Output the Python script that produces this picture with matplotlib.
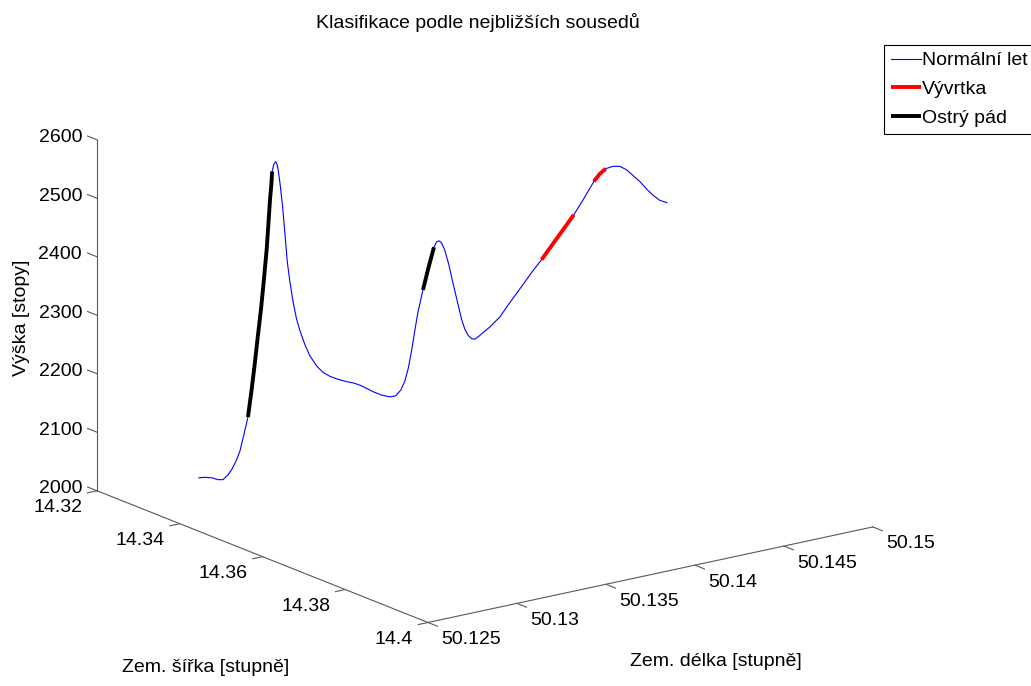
import numpy as np
import matplotlib
matplotlib.use('Agg')
import matplotlib.pyplot as plt
from mpl_toolkits.mplot3d import proj3d

plt.rcParams['font.family'] = ['Liberation Sans', 'DejaVu Sans']
plt.rcParams['font.size'] = 14

# flight track
lat = [14.33000, 14.33051, 14.33111, 14.33162, 14.33205, 14.33248, 14.33282, 14.33322, 14.33350, 14.33376,
       14.33419, 14.33453, 14.33479, 14.33504, 14.33530, 14.33555, 14.33578, 14.33594, 14.33607, 14.33618,
       14.33626, 14.33639, 14.33655, 14.33669, 14.33681, 14.33696, 14.33715, 14.33735, 14.33756, 14.33778,
       14.33806, 14.33833, 14.33863, 14.33906, 14.33948, 14.34006, 14.34060, 14.34119, 14.34188, 14.34262,
       14.34316, 14.34376, 14.34427, 14.34487, 14.34561, 14.34632, 14.34683, 14.34726, 14.34760, 14.34790,
       14.34818, 14.34846, 14.34871, 14.34893, 14.34914, 14.34961, 14.35008, 14.35029, 14.35051, 14.35072,
       14.35102, 14.35136, 14.35170, 14.35209, 14.35245, 14.35273, 14.35299, 14.35329, 14.35358, 14.35393,
       14.35427, 14.35487, 14.35572, 14.35645, 14.35717, 14.35786, 14.35854, 14.35928, 14.35999, 14.36068,
       14.36136, 14.36204, 14.36281, 14.36328, 14.36375, 14.36427, 14.36478, 14.36538, 14.36597, 14.36657,
       14.36717, 14.36768, 14.36828, 14.36879, 14.36939, 14.37000]
lon = [50.12840, 50.12862, 50.12887, 50.12909, 50.12927, 50.12945, 50.12960, 50.12977, 50.12989, 50.12998,
       50.13018, 50.13032, 50.13043, 50.13054, 50.13065, 50.13076, 50.13086, 50.13092, 50.13098, 50.13103,
       50.13106, 50.13112, 50.13119, 50.13124, 50.13129, 50.13136, 50.13144, 50.13152, 50.13161, 50.13171,
       50.13182, 50.13194, 50.13207, 50.13225, 50.13243, 50.13267, 50.13290, 50.13316, 50.13345, 50.13376,
       50.13399, 50.13425, 50.13447, 50.13472, 50.13504, 50.13534, 50.13555, 50.13574, 50.13588, 50.13601,
       50.13613, 50.13625, 50.13635, 50.13645, 50.13654, 50.13674, 50.13694, 50.13703, 50.13712, 50.13721,
       50.13733, 50.13748, 50.13763, 50.13779, 50.13794, 50.13806, 50.13817, 50.13830, 50.13842, 50.13857,
       50.13871, 50.13897, 50.13933, 50.13964, 50.13995, 50.14024, 50.14053, 50.14085, 50.14115, 50.14144,
       50.14173, 50.14202, 50.14235, 50.14255, 50.14275, 50.14296, 50.14318, 50.14344, 50.14369, 50.14394,
       50.14420, 50.14442, 50.14467, 50.14489, 50.14514, 50.14540]
alt = [2028, 2029, 2028, 2025, 2025, 2033, 2043, 2059, 2074, 2093,
       2132, 2182, 2225, 2271, 2315, 2367, 2418, 2461, 2503, 2529,
       2552, 2564, 2569, 2564, 2551, 2526, 2492, 2447, 2397, 2362,
       2329, 2301, 2280, 2256, 2237, 2220, 2209, 2202, 2197, 2193,
       2191, 2187, 2182, 2176, 2170, 2167, 2169, 2179, 2194, 2217,
       2247, 2282, 2311, 2331, 2350, 2388, 2423, 2432, 2434, 2431,
       2418, 2393, 2362, 2330, 2300, 2283, 2273, 2267, 2266, 2271,
       2277, 2287, 2304, 2325, 2345, 2364, 2383, 2402, 2422, 2441,
       2460, 2479, 2504, 2520, 2536, 2549, 2558, 2562, 2562, 2556,
       2545, 2536, 2523, 2513, 2504, 2500]

# classified parts (start, stop) indices into the track
red_parts = [(77, 82), (84, 87)]
black_parts = [(10, 21), (54, 57)]

legend_labels = ['Normální let', 'Vývrtka', 'Ostrý pád']

lat_ticks = [14.32, 14.34, 14.36, 14.38, 14.4]
lat_labels = ['14.32', '14.34', '14.36', '14.38', '14.4']
lon_ticks = [50.125, 50.13, 50.135, 50.14, 50.145, 50.15]
lon_labels = ['50.125', '50.13', '50.135', '50.14', '50.145', '50.15']
alt_ticks = [2000, 2100, 2200, 2300, 2400, 2500, 2600]
alt_labels = ['2000', '2100', '2200', '2300', '2400', '2500', '2600']

W, H = 1031, 686
fig = plt.figure(figsize=(W / 100, H / 100), dpi=100)
ax = fig.add_axes([0, 0, 1, 1], projection='3d', proj_type='ortho', computed_zorder=False)
ax.view_init(elev=17, azim=-36.3)
ax.set_box_aspect((559, 552, 367))
ax.set_axis_off()

lat = np.array(lat)
lon = np.array(lon)
alt = np.array(alt)

h_blue, = ax.plot(lat, lon, alt, color='#0000ff', lw=0.8)
for a, b in red_parts:
    h_red, = ax.plot(lat[a:b], lon[a:b], alt[a:b], color='red', lw=2.8, solid_capstyle='butt')
for a, b in black_parts:
    h_black, = ax.plot(lat[a:b], lon[a:b], alt[a:b], color='black', lw=2.8, solid_capstyle='butt')

x0, x1 = lat_ticks[0], lat_ticks[-1]
y0, y1 = lon_ticks[0], lon_ticks[-1]
z0, z1 = alt_ticks[0], alt_ticks[-1]

# MATLAB-like axis lines and ticks
gray = '0.35'
ax.plot([x0, x1], [y0, y0], [z0, z0], color=gray, lw=0.8)
ax.plot([x1, x1], [y0, y1], [z0, z0], color=gray, lw=0.8)
ax.plot([x0, x0], [y0, y0], [z0, z1], color=gray, lw=0.8)
dlat = 0.0023
dlon = 0.00055
for t in alt_ticks:
    ax.plot([x0, x0 - dlat], [y0, y0], [t, t], color=gray, lw=0.8)
for t in lat_ticks:
    ax.plot([t, t], [y0, y0 - dlon], [z0, z0], color=gray, lw=0.8)
for t in lon_ticks:
    ax.plot([x1, x1 + dlat], [t, t], [z0, z0], color=gray, lw=0.8)

ax.set_xlim(x0, x1)
ax.set_ylim(y0, y1)
ax.set_zlim(z0, z1)


def to_display(pts):
    pts = np.asarray(pts, dtype=float)
    px, py, _ = proj3d.proj_transform(pts[:, 0], pts[:, 1], pts[:, 2], ax.get_proj())
    return ax.transData.transform(np.column_stack([px, py]))


# place the axes so the box corners land where they are in the picture
fig.canvas.draw()
corners = [[x0, y0, z0], [x1, y0, z0], [x1, y1, z0], [x0, y0, z1]]
target = np.array([[97, 491], [428, 622], [873, 527], [97, 140]], dtype=float)
disp = to_display(corners)
pos = ax.get_position()
L1, B1, S1 = pos.x0 * W, pos.y0 * H, pos.width * W
q = (disp - [L1, B1]) / S1
A = []
rhs = []
for (qx, qy), (tx, ty) in zip(q, target):
    A.append([1, 0, qx]); rhs.append(tx)
    A.append([0, 1, qy]); rhs.append(H - ty)
L, B, S = np.linalg.lstsq(np.array(A), np.array(rhs), rcond=None)[0]
ax.set_position([L / W, B / H, S / W, S / H])
fig.canvas.draw()

# tick labels next to the projected tick positions
for (dx, dy), d in zip(to_display([[x0, y0, t] for t in alt_ticks]), alt_labels):
    fig.text((dx - 15) / W, (dy + 2) / H, d, ha='right', va='center')
for (dx, dy), d in zip(to_display([[t, y0, z0] for t in lat_ticks]), lat_labels):
    fig.text((dx - 15) / W, (dy - 17) / H, d, ha='right', va='center')
for (dx, dy), d in zip(to_display([[x1, t, z0] for t in lon_ticks]), lon_labels):
    fig.text((dx + 13) / W, (dy - 17) / H, d, ha='left', va='center')

fig.text(478 / W, 1 - 22 / H, 'Klasifikace podle nejbližších sousedů', ha='center', va='center')
fig.text(22 / W, 1 - 318 / H, 'Výška [stopy]', rotation=90, ha='center', va='center')
fig.text(206 / W, 1 - 667 / H, 'Zem. šířka [stupně]', ha='center', va='center')
fig.text(716 / W, 1 - 662 / H, 'Zem. délka [stupně]', ha='center', va='center')

leg = fig.legend([h_blue, h_red, h_black], legend_labels, loc='upper left',
                 bbox_to_anchor=(884 / W, 1 - 45 / H), borderaxespad=0,
                 fancybox=False, edgecolor='black', framealpha=1,
                 handlelength=1.55, handletextpad=0.05, borderpad=0.35,
                 labelspacing=0.58)
leg.get_frame().set_linewidth(0.8)

fig.savefig('out.png', dpi=100)
